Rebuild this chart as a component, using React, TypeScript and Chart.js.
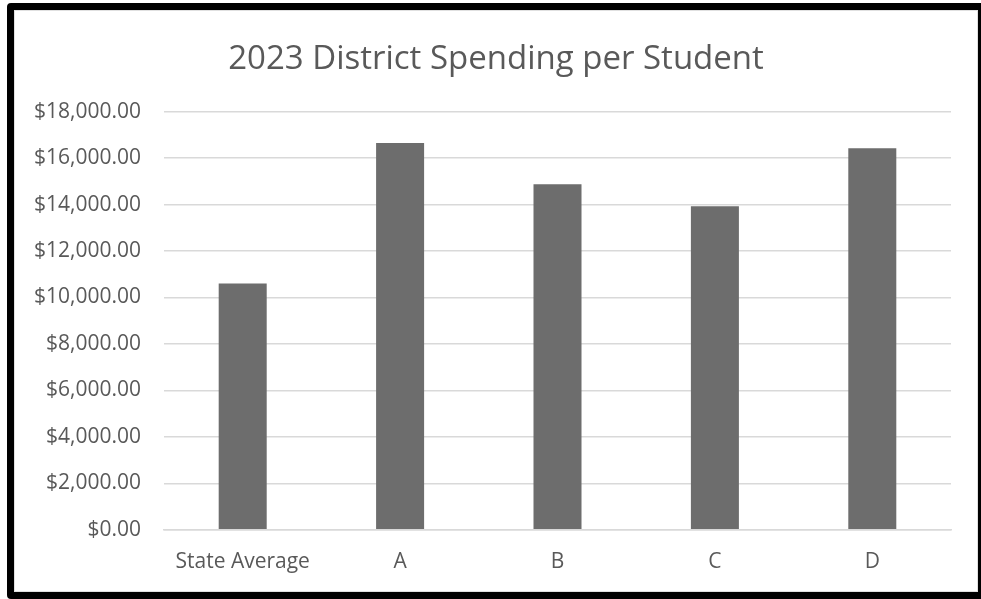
import React, { useEffect, useRef } from "react";
import { Chart, registerables } from "chart.js";

Chart.register(...registerables);

const categories = ["State Average", "A", "B", "C", "D"];
const spending = [10600, 16650, 14870, 13930, 16420];
const titleText = "2023 District Spending per Student";

const fmt = (v: number) =>
  "$" + v.toLocaleString("en-US", { minimumFractionDigits: 2, maximumFractionDigits: 2 });

export default function App() {
  const ref = useRef<HTMLCanvasElement | null>(null);

  useEffect(() => {
    document.body.style.margin = "0";
    const ctx = ref.current!;
    const chart = new Chart(ctx, {
      type: "bar",
      data: {
        labels: categories,
        datasets: [
          {
            label: "Spending",
            data: spending,
            backgroundColor: "#6d6d6d",
            borderWidth: 0,
            barPercentage: 0.305,
            categoryPercentage: 1,
            yAxisID: "y",
          },
        ],
      },
      options: {
        animation: false,
        responsive: false,
        maintainAspectRatio: false,
        layout: { padding: { left: 0, right: 0, top: 0, bottom: -3 } },
        plugins: {
          legend: { display: false },
          tooltip: { enabled: false },
          title: {
            display: true,
            text: titleText,
            color: "#595959",
            font: { family: "'Open Sans', sans-serif", size: 33, weight: "normal" },
            padding: { top: 30, bottom: 32 },
          },
        },
        scales: {
          x: {
            grid: { display: false, drawTicks: false },
            border: { display: true, color: "#d9d9d9", width: 1.5 },
            ticks: {
              color: "#595959",
              font: { family: "'Open Sans', sans-serif", size: 21 },
              padding: 20,
              maxRotation: 0,
              autoSkip: false,
            },
          },
          y: {
            position: "left",
            min: 0,
            max: 18000,
            afterFit: (s: any) => {
              s.width = 150;
            },
            grid: { color: "#d9d9d9", lineWidth: 1.5, drawTicks: false },
            border: { display: false },
            ticks: {
              stepSize: 2000,
              color: "#595959",
              font: { family: "'Open Sans', sans-serif", size: 21 },
              padding: 23,
              callback: (v: any) => fmt(Number(v)),
            },
          },
          yRightSpacer: {
            position: "right",
            min: 0,
            max: 1,
            afterFit: (s: any) => {
              s.width = 27;
            },
            grid: { display: false, drawTicks: false },
            border: { display: false },
            ticks: { display: false },
          },
        },
      },
    });
    return () => chart.destroy();
  }, []);

  return (
    <div style={{ position: "relative", width: 981, height: 599, overflow: "hidden", background: "#fff" }}>
      <div
        style={{
          position: "absolute",
          left: 7,
          top: 3,
          width: 964,
          height: 582,
          border: "7px solid #000",
          borderRadius: 4,
          background: "#fff",
        }}
      >
        <div
          style={{
            position: "absolute",
            left: 0,
            top: 0,
            width: 962,
            height: 580,
            border: "1px solid #e0e0e0",
          }}
        />
        <canvas ref={ref} width={964} height={582} style={{ position: "absolute", left: 0, top: 0, width: 964, height: 582 }} />
      </div>
    </div>
  );
}
